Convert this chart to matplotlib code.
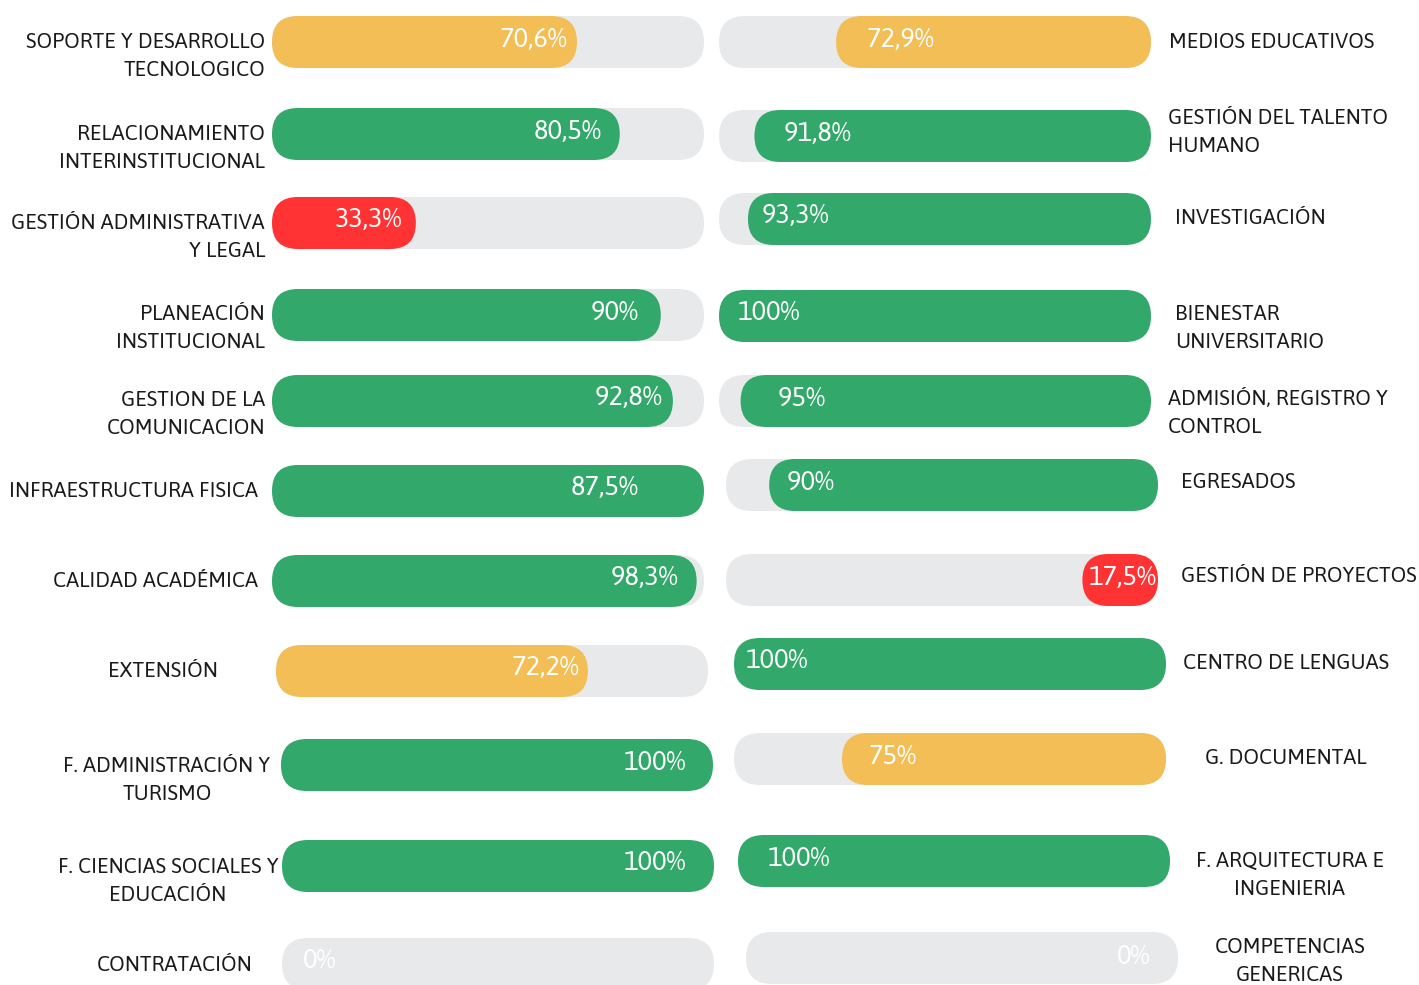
import matplotlib
matplotlib.use("Agg")
from matplotlib import pyplot as plt
from matplotlib.patches import FancyBboxPatch

# ---- data ----
left_names = ["SOPORTE Y DESARROLLO\nTECNOLOGICO", "RELACIONAMIENTO\nINTERINSTITUCIONAL",
              "GESTIÓN ADMINISTRATIVA\nY LEGAL", "PLANEACIÓN\nINSTITUCIONAL",
              "GESTION DE LA\nCOMUNICACION", "INFRAESTRUCTURA FISICA", "CALIDAD ACADÉMICA",
              "EXTENSIÓN", "F. ADMINISTRACIÓN Y\nTURISMO", "F. CIENCIAS SOCIALES Y\nEDUCACIÓN",
              "CONTRATACIÓN"]
left_values = [70.6, 80.5, 33.3, 90, 92.8, 87.5, 98.3, 72.2, 100, 100, 0]
left_labels = ["70,6%", "80,5%", "33,3%", "90%", "92,8%", "87,5%", "98,3%", "72,2%", "100%", "100%", "0%"]
# fill drawn in the picture (infraestructura is drawn full)
left_fill = [70.6, 80.5, 33.3, 90, 92.8, 100, 98.3, 72.2, 100, 100, 0]

right_names = ["MEDIOS EDUCATIVOS", "GESTIÓN DEL TALENTO\nHUMANO", "INVESTIGACIÓN",
               "BIENESTAR\nUNIVERSITARIO", "ADMISIÓN, REGISTRO Y\nCONTROL", "EGRESADOS",
               "GESTIÓN DE PROYECTOS", "CENTRO DE LENGUAS", "G. DOCUMENTAL",
               "F. ARQUITECTURA E\nINGENIERIA", "COMPETENCIAS\nGENERICAS"]
right_values = [72.9, 91.8, 93.3, 100, 95, 90, 17.5, 100, 75, 100, 0]
right_labels = ["72,9%", "91,8%", "93,3%", "100%", "95%", "90%", "17,5%", "100%", "75%", "100%", "0%"]

# ---- layout (pixels) ----
W, H = 1419, 985
BAR_W, BAR_H = 432, 52
left_x0 = [272, 272, 272, 272, 272, 272, 272, 276, 281, 282, 282]
left_y = [42, 134, 223, 315, 401, 491, 581, 671, 765, 866, 964]
left_lab_x = [265, 265, 265, 265, 265, 258, 258, 163, 167, 168, 175]
left_lab_y = [56, 148, 237, 328, 414, 491, 581, 671, 780, 881, 965]
left_lab_ha = ["right"] * 7 + ["center"] * 4
left_pct_off = [-10, -18, -14, -22, -11, -12, -18, -9, -27, -28, 0]

right_x0 = [719, 719, 719, 719, 719, 726, 726, 734, 734, 738, 746]
right_y = [42, 136, 219, 316, 401, 485, 580, 664, 759, 861, 958]
right_lab_x = [1169, 1168, 1175, 1175, 1168, 1181, 1181, 1183, 1286, 1290, 1290]
right_lab_y = [42, 132, 218, 328, 413, 482, 576, 663, 758, 875, 961]
right_lab_ha = ["left"] * 8 + ["center"] * 3
right_pct_off = [30, 29, 14, 19, 37, 17, 6, 12, 26, 30, 0]

GRAY = "#E8E9EB"
GREEN = "#32A86A"
YELLOW = "#F2BE55"
RED = "#FF3333"
FONT = ["Asap", "Asap Condensed", "DejaVu Sans"]
NAME_SIZE = 15.3
PCT_SIZE = 19.5


def colour(v):
    if v >= 80:
        return GREEN
    if v >= 50:
        return YELLOW
    return RED


def pill(ax, x, y, w, color):
    if w <= 0:
        return
    r = min(BAR_H, w) / 2
    ax.add_patch(FancyBboxPatch((x, y - BAR_H / 2), w, BAR_H,
                                boxstyle="round,pad=0,rounding_size=%f" % r,
                                fc=color, ec="none"))


fig = plt.figure(figsize=(W / 100, H / 100), dpi=100)
ax = fig.add_axes([0, 0, 1, 1])
ax.set_xlim(0, W)
ax.set_ylim(H, 0)
ax.axis("off")

# left column: fill grows from the left
for i in range(len(left_names)):
    x0, y = left_x0[i], left_y[i]
    pill(ax, x0, y, BAR_W, GRAY)
    pill(ax, x0, y, BAR_W * left_fill[i] / 100, colour(left_values[i]))
    if left_values[i] > 0:
        px = x0 + BAR_W * left_values[i] / 100 + left_pct_off[i]
        ax.text(px, y - 3, left_labels[i], ha="right", va="center", color="white",
                fontsize=PCT_SIZE, family=FONT, weight=300)
    else:
        ax.text(x0 + 21, y - 3, left_labels[i], ha="left", va="center", color="white",
                fontsize=PCT_SIZE, family=FONT, weight=300)
    ax.text(left_lab_x[i], left_lab_y[i], left_names[i], ha=left_lab_ha[i], va="center",
            multialignment=left_lab_ha[i], fontsize=NAME_SIZE, family=FONT, weight=300,
            color="#1a1a1a", linespacing=1.45)

# right column: fill grows from the right
for i in range(len(right_names)):
    x0, y = right_x0[i], right_y[i]
    pill(ax, x0, y, BAR_W, GRAY)
    w = BAR_W * right_values[i] / 100
    pill(ax, x0 + BAR_W - w, y, w, colour(right_values[i]))
    if right_values[i] > 0:
        ax.text(x0 + BAR_W - w + right_pct_off[i], y - 3, right_labels[i], ha="left",
                va="center", color="white", fontsize=PCT_SIZE, family=FONT, weight=300)
    else:
        ax.text(x0 + BAR_W - 28, y - 2, right_labels[i], ha="right", va="center",
                color="white", fontsize=PCT_SIZE, family=FONT, weight=300)
    ax.text(right_lab_x[i], right_lab_y[i], right_names[i], ha=right_lab_ha[i], va="center",
            multialignment=right_lab_ha[i], fontsize=NAME_SIZE, family=FONT, weight=300,
            color="#1a1a1a", linespacing=1.45)

fig.savefig("out.png", dpi=100)
